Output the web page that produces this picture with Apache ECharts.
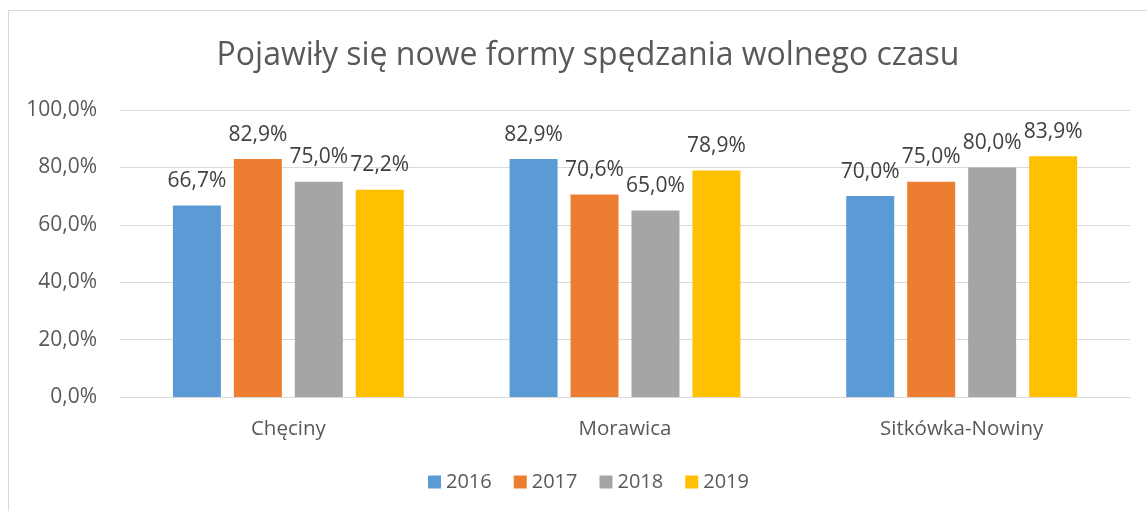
<!DOCTYPE html>
<html>
<head>
<meta charset="utf-8">
<script src="https://cdn.jsdelivr.net/npm/echarts@6/dist/echarts.min.js"></script>
<style>
  html, body { margin: 0; padding: 0; background: #fff; }
  #frame { position: absolute; left: 8px; top: 10px; width: 1160px; height: 520px; border: 1px solid #d9d9d9; box-sizing: border-box; }
  #main { position: absolute; left: 0; top: 0; width: 1147px; height: 511px; }
</style>
</head>
<body>
<div id="frame"></div>
<div id="main"></div>
<script>
var categories = ['Chęciny', 'Morawica', 'Sitkówka-Nowiny'];
var seriesNames = ['2016', '2017', '2018', '2019'];
var v2016 = [66.7, 82.9, 70.0];
var v2017 = [82.9, 70.6, 75.0];
var v2018 = [75.0, 65.0, 80.0];
var v2019 = [72.2, 78.9, 83.9];
var colors = ['#5b9bd5', '#ed7d31', '#a5a5a5', '#ffc000'];

var fontFam = '"Open Sans", sans-serif';
function pct(v) { return v.toFixed(1).replace('.', ',') + '%'; }

var chart = echarts.init(document.getElementById('main'));
var allValues = [v2016, v2017, v2018, v2019];
var series = seriesNames.map(function (name, i) {
    return {
        name: name,
        type: 'bar',
        data: allValues[i],
        barWidth: 48,
        barGap: '27%',
        itemStyle: { color: colors[i] },
        label: {
            show: true,
            position: 'top',
            distance: 14,
            color: '#404040',
            fontSize: 21,
            fontFamily: fontFam,
            formatter: function (p) { return pct(p.value); }
        }
    };
});

var option = {
    animation: false,
    color: colors,
    title: {
        text: 'Pojawiły się nowe formy spędzania wolnego czasu',
        left: 583,
        textAlign: 'center',
        top: 35,
        textStyle: { color: '#595959', fontSize: 32, fontWeight: 'normal', fontFamily: fontFam }
    },
    legend: {
        data: seriesNames,
        top: 467,
        left: 423,
        itemWidth: 13,
        itemHeight: 13,
        itemGap: 22,
        icon: 'rect',
        textStyle: { color: '#595959', fontSize: 20, fontFamily: fontFam }
    },
    grid: { left: 120, right: 17, top: 110, bottom: 114 },
    xAxis: {
        type: 'category',
        data: categories,
        axisLine: { lineStyle: { color: '#d9d9d9', width: 1 } },
        axisTick: { show: false },
        axisLabel: { color: '#595959', fontSize: 20.5, fontFamily: fontFam, margin: 22 }
    },
    yAxis: {
        type: 'value',
        min: 0,
        max: 100,
        interval: 20,
        axisLine: { show: false },
        axisTick: { show: false },
        splitLine: { lineStyle: { color: '#d9d9d9', width: 1 } },
        axisLabel: {
            color: '#595959', fontSize: 21, fontFamily: fontFam, margin: 23,
            formatter: function (v) { return pct(v); }
        }
    },
    series: series
};
chart.setOption(option);
</script>
</body>
</html>
